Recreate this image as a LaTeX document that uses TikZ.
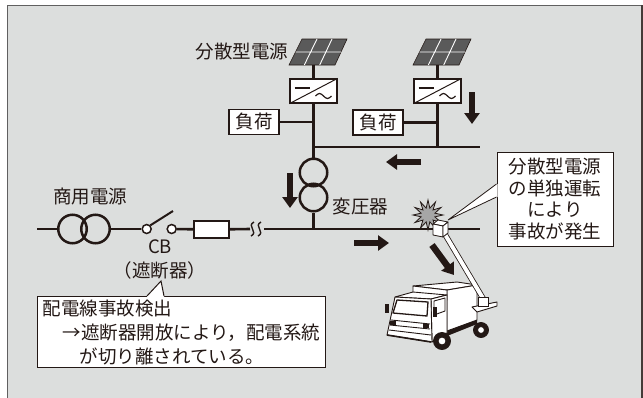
\documentclass[tikz,border=0pt]{standalone}
\usepackage{fontspec}
\setmainfont{Noto Sans CJK JP}
\usetikzlibrary{shapes.geometric, arrows.meta, positioning}

\definecolor{ink}{HTML}{231815}
\definecolor{bgray}{HTML}{DCDEDD}
\definecolor{cellgray}{HTML}{5A5A5A}
\newcommand{\jpfont}{\fontsize{18.5}{21.5}\selectfont}

\begin{document}
\begin{tikzpicture}[x=1pt, y=-1pt, ink,
        wire/.style={line width=2.6pt, draw=ink},
        box/.style={rectangle, draw=ink, fill=white, line width=1.3pt, inner sep=0pt},
        load/.style={box, minimum width=50pt, minimum height=25pt, font=\jpfont},
        inv/.style={box, minimum width=47pt, minimum height=24pt},
        coil/.style={circle, draw=ink, line width=2.5pt, minimum size=27.5pt, inner sep=0pt},
        contact/.style={circle, draw=ink, fill=white, line width=1.5pt, minimum size=9pt, inner sep=0pt},
        note/.style={box, line width=1pt, font=\jpfont},
        flow/.style={line width=6.5pt, -{Triangle[length=11pt, width=15pt]}},
        lbl/.style={font=\jpfont}
    ]
        \clip (0,0) rectangle (643,397);
        % Frame
        \fill[bgray] (7,5) rectangle (643,400);
        \draw[gray!75!black, line width=1.5pt] (7.5,400) -- (7.5,5.5) -- (641,5.5);
        \draw[ink!85, line width=2pt] (641.5,5) -- (641.5,400);

        % Solar panels
        \foreach \px in {289, 413} {
            \filldraw[fill=cellgray, draw=ink, line width=0.6pt] (\px,65) -- (\px+13,39) -- (\px+58,39) -- (\px+46,65) -- cycle;
            \draw[white, line width=0.9pt] (\px+6.5,52) -- (\px+52,52)
                (\px+15.3,65) -- (\px+28,39) (\px+30.7,65) -- (\px+43,39);
        }
        \coordinate (pvL) at (313.5,65);
        \coordinate (pvR) at (437.5,65);
        \node[lbl] (pvlbl) at (242,52) {分散型電源};

        % Distribution side
        \node[inv] (invL) at (313.5,91) {};
        \node[inv] (invR) at (437.5,91) {};
        \node[load] (loadL) at (254,122) {負荷};
        \node[load] (loadR) at (378,122.5) {負荷};
        \node[coil] (trU) at (313.5,172.5) {};
        \node[coil] (trD) at (313.5,197.5) {};
        \node[lbl, anchor=west] (trlbl) at (329,206) {変圧器};
        \coordinate (busW) at (313.5,147);
        \coordinate (busE) at (480,147);

        \foreach \n in {invL, invR} {
            \draw[line width=1pt] (\n.south west) -- (\n.north east);
            \draw[line width=1.2pt] ([shift={(-19,-3)}]\n.center) -- ++(15,0);
            \draw[line width=1.2pt] ([shift={(2,5)}]\n.center) sin ++(4,-2.5) cos ++(4,2.5) sin ++(4,2.5) cos ++(4,-2.5);
        }

        % Main line
        \coordinate (mainW) at (37,229);
        \coordinate (mainE) at (480,229);
        \node[coil, minimum size=28.5pt] (srcA) at (72.5,229) {};
        \node[coil, minimum size=28.5pt] (srcB) at (95.5,229) {};
        \node[contact] (cbL) at (146.7,229) {};
        \node[contact] (cbR) at (171.7,229) {};
        \node[box, minimum width=35pt, minimum height=17pt] (fuse) at (211.5,229.5) {};
        \coordinate (arm) at (173,211);
        \coordinate (gapW) at (250,229);
        \coordinate (gapE) at (264,229);
        \node[lbl] (srclbl) at (90,197) {商用電源};
        \node[lbl] (cblbl) at (160,247) {CB};
        \node[lbl] (cbname) at (160,270) {（遮断器）};

        \draw[wire] (pvL) -- (invL);
        \draw[wire] (pvR) -- (invR);
        \draw[wire] (invL) -- (trU);
        \draw[wire] (invR) -- (invR |- busE);
        \draw[wire] (busW) -- (busE);
        \draw[wire] (loadL) -- (loadL -| invL);
        \draw[wire] (loadR) -- (loadR -| invR);
        \draw[wire] (trD) -- (trD |- mainE);
        \draw[wire] (mainW) -- (srcA);
        \draw[wire] (srcB) -- (cbL);
        \draw[wire] (cbR) -- (fuse);
        \draw[wire] (fuse) -- (gapW);
        \draw[wire] (gapE) -- (mainE);
        \draw[line width=2pt] (cbL.north east) -- (arm);
        \foreach \wx in {252, 259}
            \draw[line width=1.4pt] (\wx+2,222) .. controls (\wx-6,226) and (\wx+7,232) .. (\wx-1,236);

        % Power flow
        \draw[flow] (472,92) -- (472,124);
        \draw[flow] (421,162) -- (386,162);
        \draw[flow] (290,173) -- (290,208);
        \draw[flow] (354,243) -- (389,243);
        \draw[flow] (432,245) -- (454,275);

        % Bucket truck
        \begin{scope}[line width=0.9pt, line join=round]
            \filldraw[fill=white] (413,286) -- (457,282) -- (477,285) -- (447,290) -- cycle;
            \filldraw[fill=white] (447,290) -- (477,285) -- (477,320) -- (447,331) -- cycle;
            \filldraw[fill=white] (413,286) -- (447,290) -- (447,300) -- (413,296) -- cycle;
            \fill[ink] (447,331) -- (477,320) -- (477,324) -- (447,336) -- cycle;
            \filldraw[fill=white] (472,307) -- (497,302) -- (497,306) -- (477,312) -- cycle;
            % cab
            \filldraw[fill=white] (395,297) -- (413,292) -- (447,295) -- (431,299) -- cycle;
            \filldraw[fill=white] (431,299) -- (447,295) -- (447,333) -- (432,342) -- cycle;
            \filldraw[fill=white] (395,297) -- (431,299) -- (432,342) -- (387,335) -- cycle;
            \draw[line width=1.3pt] (397,300) -- (428,302) -- (427,316) -- (393,313) -- cycle;
            \draw (434,301) -- (445,298) -- (445,311) -- (434,315) -- cycle;
            \draw (391,320) -- (430,324) (390,325) -- (430,329) (389,330) -- (431,335);
            \fill (390,321) rectangle (396,325);
            \fill (423,324) rectangle (429,328);
            \draw[line width=1.6pt] (387,335) -- (431,342);
            \fill (385,304) rectangle (389,313);
            \fill (433,307) rectangle (437,317);
            % wheels
            \filldraw[fill=ink] (442,341) circle (8.5pt);
            \filldraw[fill=white] (442,341) circle (4pt);
            \filldraw[fill=ink] (481,330) circle (7.5pt);
            \filldraw[fill=white] (481,330) circle (3.5pt);
        \end{scope}
        \draw[line width=0.8pt, double=white, double distance=4pt] (443,231) -- (484,300);
        \filldraw[fill=white, line width=0.8pt] (478,297) rectangle (488,306);

        % Fault point
        \node[star, star points=12, star point ratio=2.1, draw=ink, fill=gray!70, line width=0.8pt,
              minimum size=30pt, inner sep=0pt] (spark) at (428,215) {};
        \begin{scope}[line width=0.8pt, line join=round]
            \filldraw[fill=white] (433,224) -- (438,220) -- (448,222) -- (443,226) -- cycle;
            \filldraw[fill=white] (433,224) -- (443,226) -- (443,237) -- (433,235) -- cycle;
            \filldraw[fill=white] (443,226) -- (448,222) -- (448,233) -- (443,237) -- cycle;
        \end{scope}

        % Callouts
        \node[note, minimum width=116pt, minimum height=94pt, align=center] (cause) at (555,199)
            {分散型電源\\の単独運転\\により\\事故が発生};
        \coordinate (tipR) at (448,220);
        \fill[white] (tipR) -- ([shift={(0,-15)}]cause.west) -- ([shift={(1,-15)}]cause.west)
            -- ([shift={(1,-2)}]cause.west) -- ([shift={(0,-2)}]cause.west) -- cycle;
        \draw[line width=0.8pt] ([shift={(0,-15)}]cause.west) -- (tipR) -- ([shift={(0,-2)}]cause.west);

        \node[note, anchor=north west, minimum width=288pt, minimum height=71pt, align=left,
              font=\fontsize{18.5}{24}\selectfont] (detect) at (37,296)
            {配電線事故検出\\\hspace*{20pt}→遮断器開放により，配電系統\\\hspace*{37pt}が切り離されている。};
        \coordinate (tipB) at (161,281);
        \fill[white] (tipB) -- ([shift={(110,0)}]detect.north west) -- ([shift={(110,1)}]detect.north west)
            -- ([shift={(127,1)}]detect.north west) -- ([shift={(127,0)}]detect.north west) -- cycle;
        \draw[line width=1pt] ([shift={(110,0)}]detect.north west) -- (tipB) -- ([shift={(127,0)}]detect.north west);
    \end{tikzpicture}
\end{document}
